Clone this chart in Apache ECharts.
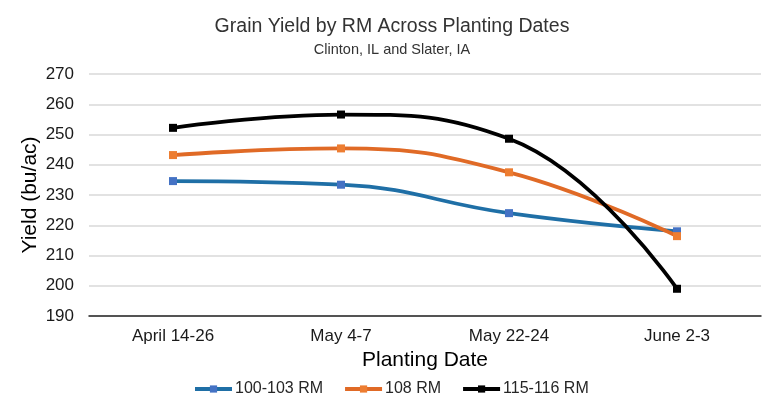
<!DOCTYPE html>
<html>
<head>
<meta charset="utf-8">
<script src="https://cdn.jsdelivr.net/npm/echarts@6/dist/echarts.min.js"></script>
<style>
  html, body { margin: 0; padding: 0; background: #fff; }
  #chart { width: 762px; height: 402px; }
</style>
</head>
<body>
<div id="chart"></div>
<script>
const categories = ['April 14-26', 'May 4-7', 'May 22-24', 'June 2-3']
const rm100 = [234.6, 233.4, 224, 218]
const rm108 = [243.2, 245.4, 237.5, 216.4]
const rm115 = [252.2, 256.6, 248.6, 199]

const font = 'Liberation Sans, Arial, sans-serif'

function line(name, data, lineColor, markColor) {
  return {
    name: name,
    type: 'line',
    data: data,
    smooth: 0.45,
    symbol: 'rect',
    symbolSize: 8,
    lineStyle: { color: lineColor, width: 3.8 },
    itemStyle: { color: markColor },
    emphasis: { disabled: true }
  }
}

const chart = echarts.init(document.getElementById('chart'))
chart.setOption({
  animation: false,
  title: {
    text: 'Grain Yield by RM Across Planting Dates',
    subtext: 'Clinton, IL and Slater, IA',
    left: 387,
    textAlign: 'center',
    top: 12,
    itemGap: 5,
    textStyle: { fontFamily: font, fontSize: 19.5, fontWeight: 'normal', color: '#333' },
    subtextStyle: { fontFamily: font, fontSize: 14.5, color: '#333' }
  },
  legend: {
    bottom: 0,
    left: 188,
    itemWidth: 37,
    itemHeight: 9,
    itemGap: 20,
    lineStyle: { width: 4 },
    textStyle: { fontFamily: font, fontSize: 16, color: '#262626', padding: [0, 0, 0, -2] },
    data: ['100-103 RM', '108 RM', '115-116 RM']
  },
  grid: { left: 89, right: 1, top: 74, bottom: 86, containLabel: false },
  xAxis: {
    type: 'category',
    data: categories,
    name: 'Planting Date',
    nameLocation: 'middle',
    nameGap: 29,
    nameTextStyle: { fontFamily: font, fontSize: 21, color: '#000' },
    axisLine: { lineStyle: { color: '#262626', width: 1.5 } },
    axisTick: { show: false },
    axisLabel: { fontFamily: font, fontSize: 17, color: '#1a1a1a', margin: 12 }
  },
  yAxis: {
    type: 'value',
    min: 190,
    max: 270,
    interval: 10,
    name: 'Yield (bu/ac)',
    nameLocation: 'middle',
    nameGap: 48,
    nameMoveOverlap: false,
    nameTextStyle: { fontFamily: font, fontSize: 21, color: '#000' },
    axisLine: { show: false },
    axisTick: { show: false },
    axisLabel: { fontFamily: font, fontSize: 17, color: '#1a1a1a', margin: 15 },
    splitLine: { lineStyle: { color: '#d9d9d9', width: 1.5 } }
  },
  series: [
    line('100-103 RM', rm100, '#1f6fa6', '#4472c4'),
    line('108 RM', rm108, '#e06a26', '#ed7d31'),
    line('115-116 RM', rm115, '#000000', '#000000')
  ]
})
</script>
</body>
</html>
